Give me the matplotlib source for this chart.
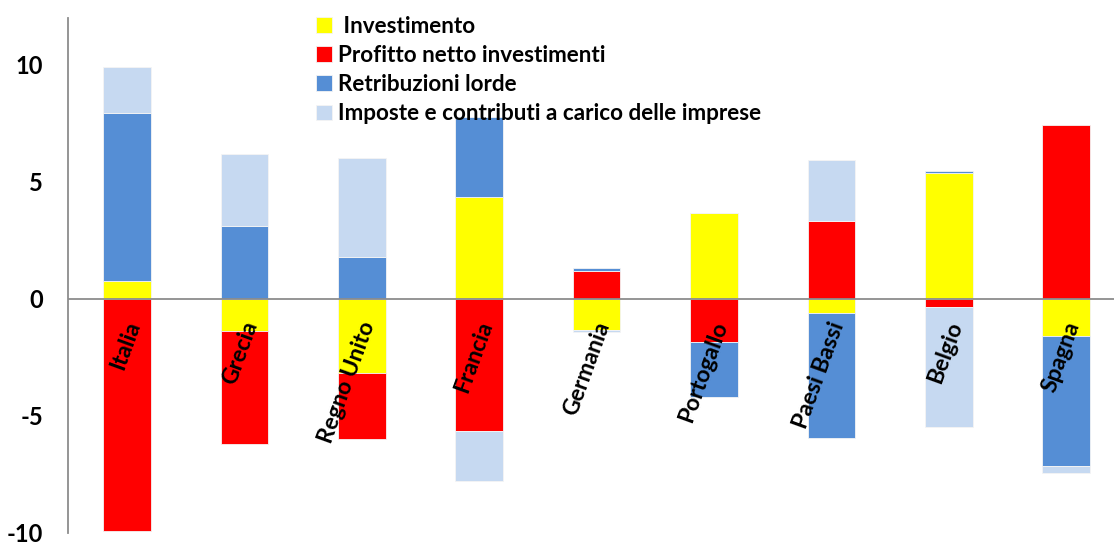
import matplotlib
matplotlib.use("Agg")
import matplotlib.pyplot as plt
import numpy as np

# contributi alla variazione per paese (punti percentuali)
paesi = ["Italia", "Grecia", "Regno Unito", "Francia", "Germania",
         "Portogallo", "Paesi Bassi", "Belgio", "Spagna"]
investimento = [0.78, -1.35, -3.17, 4.34, -1.31, 3.66, -0.61, 5.37, -1.60]
profitto = [-9.93, -4.83, -2.83, -5.65, 1.20, -1.84, 3.31, -0.33, 7.41]
retribuzioni = [7.15, 3.10, 1.79, 3.45, 0.13, -2.36, -5.32, 0.08, -5.54]
imposte = [1.98, 3.07, 4.21, -2.15, -0.12, 0.0, 2.61, -5.13, -0.31]

serie = [
    (" Investimento", investimento, "#FFFF00"),
    ("Profitto netto investimenti", profitto, "#FF0000"),
    ("Retribuzioni lorde", retribuzioni, "#558ED5"),
    ("Imposte e contributi a carico delle imprese", imposte, "#C6D9F1"),
]

FONT = "Lato"
W, H = 1114, 542

fig = plt.figure(figsize=(W / 100, H / 100), dpi=100)
ax = fig.add_axes([68.3 / W, 1 - 533 / H, 1 - 68.3 / W, (533 - 18) / H])

x = np.arange(len(paesi))
pos_base = np.zeros(len(paesi))
neg_base = np.zeros(len(paesi))
for label, vals, color in serie:
    v = np.array(vals)
    bottom = np.where(v >= 0, pos_base, neg_base)
    ax.bar(x, v, 0.405, bottom=bottom, color=color, edgecolor="#f4f4f4",
           linewidth=0.6, label=label)
    pos_base += np.clip(v, 0, None)
    neg_base += np.clip(v, None, 0)

ax.set_xlim(-0.5, (W - 68.3) / 117.4 - 0.5)
ax.set_ylim(-10, 12)
ax.set_yticks([-10, -5, 0, 5, 10])
ax.set_yticklabels(["-10", "-5", "0", "5", "10"], fontfamily=FONT,
                   fontweight="bold", fontsize=17)
ax.tick_params(axis="y", length=0, pad=18)
ax.set_xticks([])

for s in ["top", "right", "bottom"]:
    ax.spines[s].set_visible(False)
ax.spines["left"].set_color("#8c8c8c")
ax.spines["left"].set_linewidth(1.3)
ax.axhline(0, color="#8c8c8c", lw=1.3, zorder=3)

# etichette dei paesi ruotate sotto lo zero
for xi, name in zip(x, paesi):
    ax.text(xi + 0.06, -1.0, name, rotation=70, rotation_mode="anchor",
            ha="right", va="center", fontfamily=FONT, fontweight="bold",
            fontsize=16.5, zorder=4)

leg = ax.legend(loc="upper left", bbox_to_anchor=(316 / W, 1 - 16 / H),
                bbox_transform=fig.transFigure, frameon=False,
                prop={"family": FONT, "weight": "bold", "size": 16.2},
                handlelength=0.7, handleheight=0.7, handletextpad=0.3,
                labelspacing=0.36, borderpad=0, borderaxespad=0)
leg.set_zorder(10)

fig.savefig("out.png", dpi=100)
